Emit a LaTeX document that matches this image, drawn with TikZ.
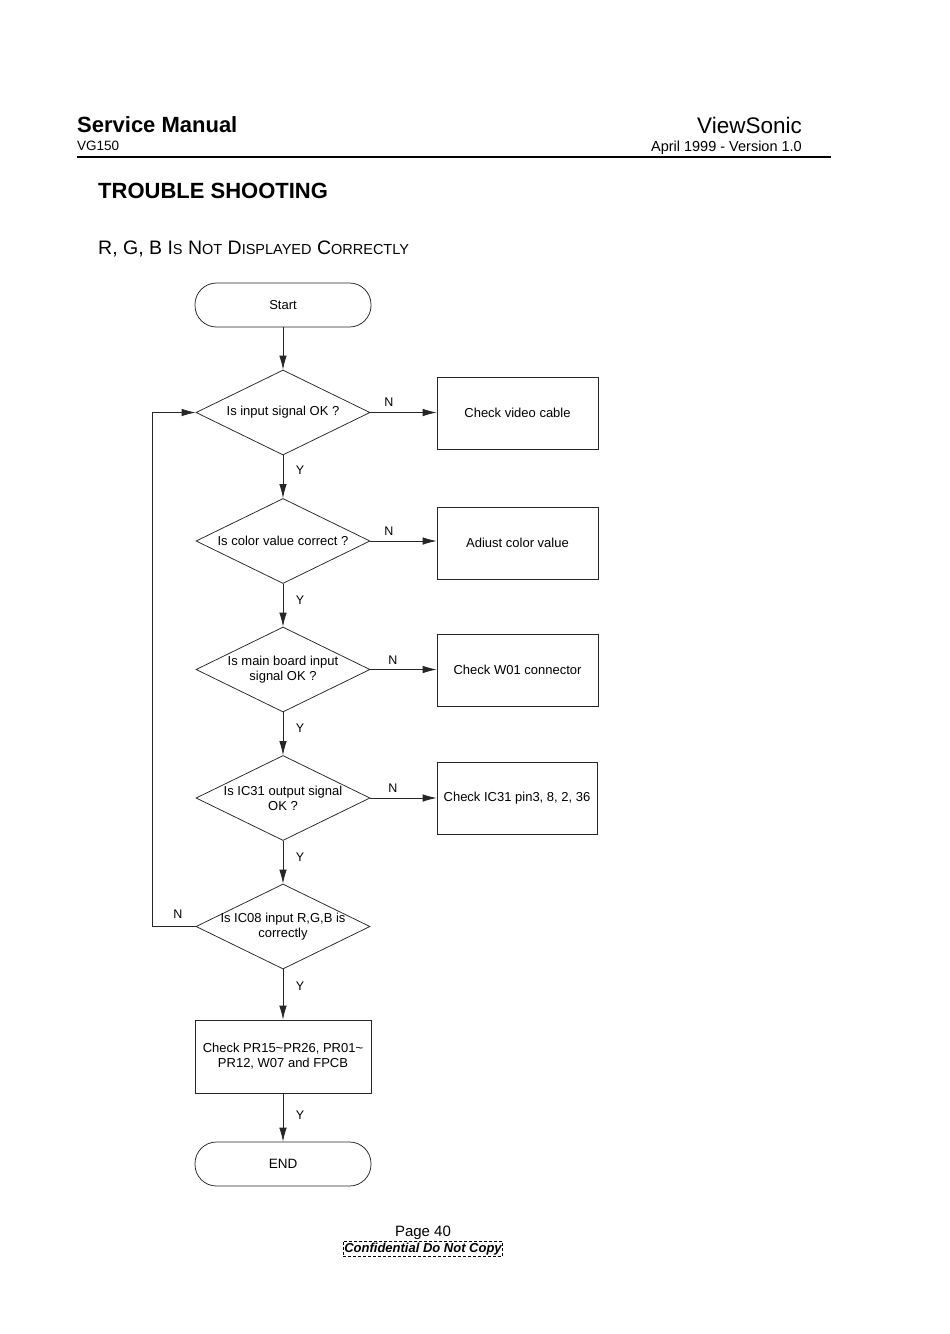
\documentclass[tikz,border=0pt]{standalone}
\usepackage{fontspec}
\setmainfont{Liberation Sans}
\usetikzlibrary{shapes.geometric,arrows.meta,calc}
\begin{document}
\begin{tikzpicture}[x=1pt,y=-1pt,
  ln/.style={draw=black!85, line width=0.75pt},
  arr/.style={ln, -{Latex[length=14pt,width=7.5pt]}},
  dec/.style={diamond, ln, minimum width=174, minimum height=85, inner sep=0},
  proc/.style={rectangle, ln, minimum width=161, minimum height=72, inner sep=0},
  term/.style={rectangle, rounded corners=21.5pt, ln, minimum width=176, minimum height=44, inner sep=0},
  txt/.style={font=\fontsize{13}{15}\selectfont, align=center, inner sep=0},
  lab/.style={font=\fontsize{12.5}{15}\selectfont, inner sep=0}]
\useasboundingbox[fill=white] (0,0) rectangle (950,1334);
% header
\node[anchor=base west, font=\fontsize{22}{26}\selectfont\bfseries, inner sep=0] (sm) at (77,132) {Service Manual};
\node[anchor=base west, font=\fontsize{13.5}{16}\selectfont, inner sep=0] (vg) at (77,150) {VG150};
\node[anchor=base east, font=\fontsize{22.5}{26}\selectfont, inner sep=0] (vs) at (802,133) {ViewSonic};
\node[anchor=base east, font=\fontsize{14.5}{17}\selectfont, inner sep=0] (ap) at (802,151) {April 1999 - Version 1.0};
\draw[line width=1.3pt] (77,157) coordinate (r1) -- (831,157) coordinate (r2);
\node[anchor=base west, font=\fontsize{22}{26}\selectfont\bfseries, inner sep=0] (ts) at (98,198) {TROUBLE SHOOTING};
\node[anchor=base west, inner sep=0] (sub) at (98,254) {\fontsize{19.5}{22}\selectfont R, G, B I\fontsize{14.5}{22}\selectfont S\fontsize{19.5}{22}\selectfont{} N\fontsize{14.5}{22}\selectfont OT\fontsize{19.5}{22}\selectfont{} D\fontsize{14.5}{22}\selectfont ISPLAYED\fontsize{19.5}{22}\selectfont{} C\fontsize{14.5}{22}\selectfont ORRECTLY};
% flowchart
\node[term] (start) at (283,305) {};
\node[txt] (startt) at (start) {Start};
\node[dec] (d1) at (283,412.5) {};
\node[txt] (d1t) at (d1) {Is input signal OK ?};
\node[dec] (d2) at (283,541) {};
\node[txt] (d2t) at (d2) {Is color value correct ?};
\node[dec] (d3) at (283,669.5) {};
\node[txt] (d3t) at (283,669.5) {Is main board input\\signal OK ?};
\node[dec] (d4) at (283,798) {};
\node[txt] (d4t) at (283,798) {Is IC31 output signal\\OK ?};
\node[dec] (d5) at (283,926.5) {};
\node[txt] (d5t) at (283,926.5) {Is IC08 input R,G,B is\\correctly};
\node[proc] (b1) at (517.5,413) {};
\node[txt] (b1t) at (b1) {Check video cable};
\node[proc] (b2) at (517.5,543) {};
\node[txt] (b2t) at (b2) {Adiust color value};
\node[proc] (b3) at (517.5,670) {};
\node[txt] (b3t) at (b3) {Check W01 connector};
\node[proc, minimum width=160] (b4) at (517,798) {};
\node[txt] (b4t) at (b4) {Check IC31 pin3, 8, 2, 36};
\node[proc, minimum width=176, minimum height=73] (b5) at (283,1056.5) {};
\node[txt] (b5t) at (b5) {Check PR15\textasciitilde PR26, PR01\textasciitilde\\PR12, W07 and FPCB};
\node[term] (end) at (283,1164) {};
\node[txt, font=\fontsize{13.5}{15}\selectfont] (endt) at (end) {END};
% connectors
\draw[arr] (start) -- (d1);
\draw[arr] (d1) -- (d2);
\draw[arr] (d2) -- (d3);
\draw[arr] (d3) -- (d4);
\draw[arr] (d4) -- (d5);
\draw[arr] (d5) -- (b5);
\draw[arr] (b5) -- (end);
\draw[arr] (d1.east) -- (d1.east -| b1.west);
\draw[arr] (d2.east) -- (d2.east -| b2.west);
\draw[arr] (d3.east) -- (d3.east -| b3.west);
\draw[arr] (d4.east) -- (d4.east -| b4.west);
\coordinate (lp) at (152,926.5);
\draw[arr] (d5.west) -- (lp) |- (d1.west);
% labels
\node[lab] (n1) at (389,402) {N};
\node[lab] (n2) at (389,531) {N};
\node[lab] (n3) at (393,660) {N};
\node[lab] (n4) at (393,788) {N};
\node[lab] (n5) at (178,914) {N};
\node[lab] (y1) at (300,470) {Y};
\node[lab] (y2) at (300,600) {Y};
\node[lab] (y3) at (300,728) {Y};
\node[lab] (y4) at (300,857) {Y};
\node[lab] (y5) at (300,986) {Y};
\node[lab] (y6) at (300,1115) {Y};
% footer
\node[anchor=base, font=\fontsize{15}{17}\selectfont, inner sep=0] (pg) at (423,1236) {Page 40};
\node[anchor=base, font=\fontsize{13}{15}\selectfont\bfseries\itshape, draw, densely dashed, line width=0.6pt, inner xsep=1pt, inner ysep=1.5pt] (conf) at (423,1252) {Confidential Do Not Copy};
\end{tikzpicture}
\end{document}
